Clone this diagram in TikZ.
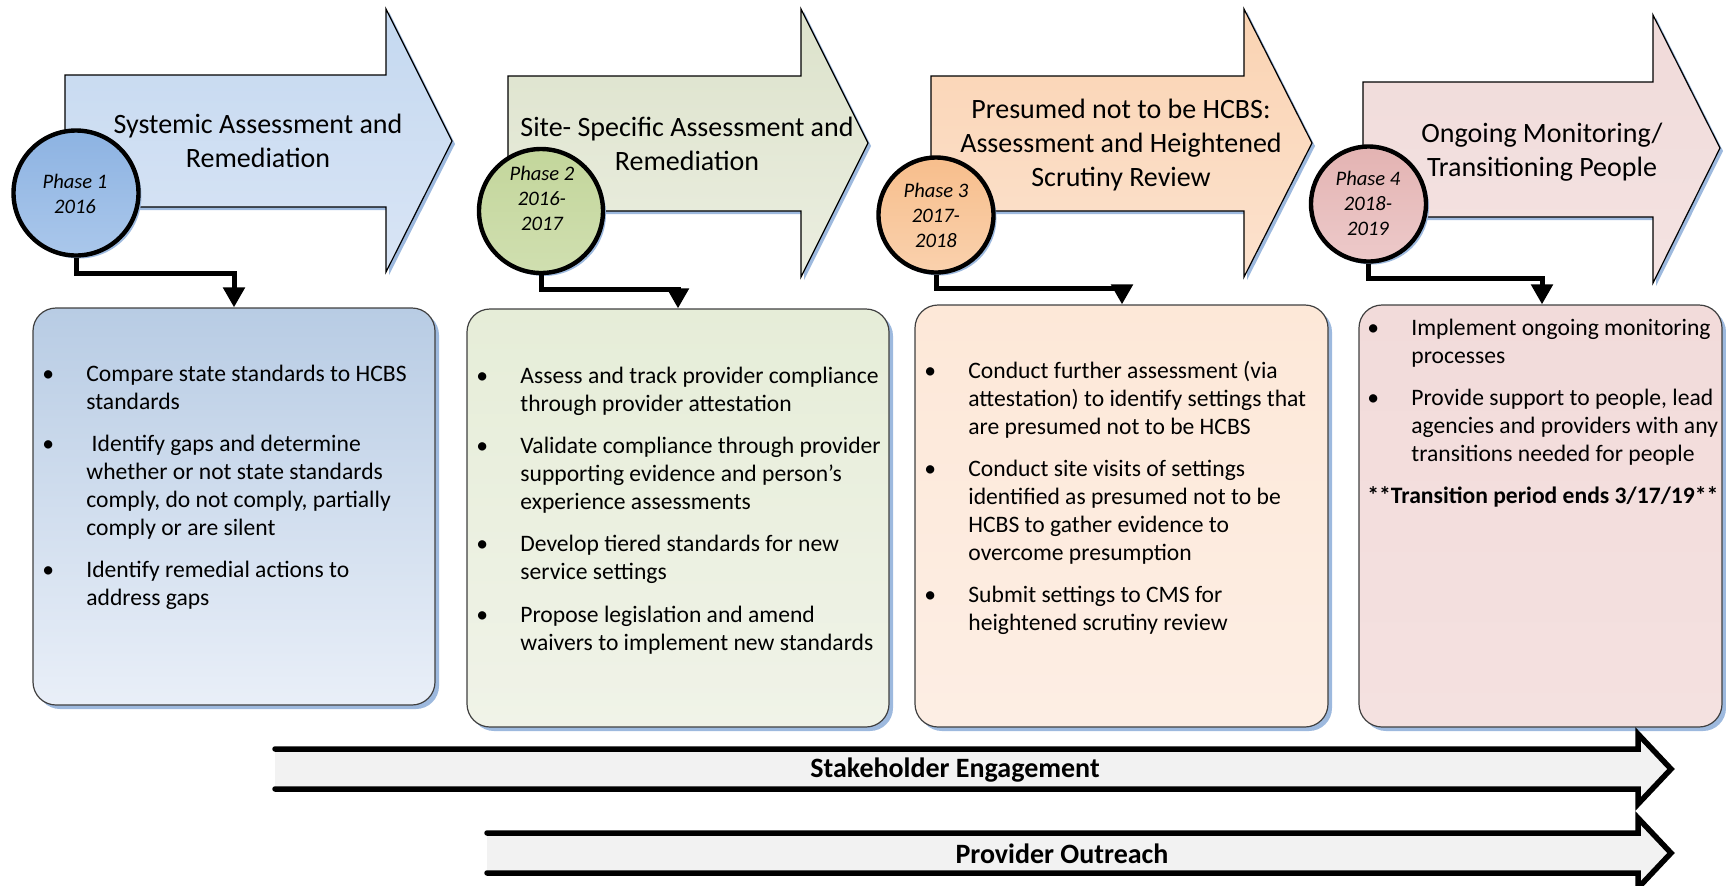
\documentclass[tikz,border=0pt]{standalone}
\usepackage{fontspec}
\setmainfont{Carlito}
\usetikzlibrary{arrows.meta,shadows}
\definecolor{shblue}{HTML}{9DB9DE}
\definecolor{boxline}{HTML}{404040}
\definecolor{aAtop}{HTML}{C4D8F0}
\definecolor{aAbot}{HTML}{D9E5F5}
\definecolor{cAtop}{HTML}{8DB3E2}
\definecolor{cAbot}{HTML}{AAC7EB}
\definecolor{bAtop}{HTML}{B8CCE4}
\definecolor{bAbot}{HTML}{E9EFF8}
\definecolor{aBtop}{HTML}{DCE2CB}
\definecolor{aBbot}{HTML}{EBEEE0}
\definecolor{cBtop}{HTML}{C3D69B}
\definecolor{cBbot}{HTML}{D0DFB0}
\definecolor{bBtop}{HTML}{E6EDD8}
\definecolor{bBbot}{HTML}{F0F3E8}
\definecolor{aCtop}{HTML}{FAD3B2}
\definecolor{aCbot}{HTML}{FCE2CE}
\definecolor{cCtop}{HTML}{F7BE8C}
\definecolor{cCbot}{HTML}{FAD1AD}
\definecolor{bCtop}{HTML}{FDE8D8}
\definecolor{bCbot}{HTML}{FDEEE4}
\definecolor{aDtop}{HTML}{F0DAD9}
\definecolor{aDbot}{HTML}{F4E3E2}
\definecolor{cDtop}{HTML}{E3B3B2}
\definecolor{cDbot}{HTML}{EDCACA}
\definecolor{bDtop}{HTML}{F2DBDA}
\definecolor{bDbot}{HTML}{F4E1E0}
\definecolor{bandfill}{HTML}{F2F2F2}
\newcommand\ctext[1]{\begin{tabular}[t]{@{}c@{}}#1\end{tabular}}
\newcommand\bitem[1]{\par\hangindent=22pt\hangafter=1\noindent\hbox to 22pt{\textbullet\hfil}\ignorespaces#1\par\vskip7.2pt}
\newcommand\blist[1]{\vtop{\hsize=240pt\parindent=0pt\parskip=0pt\raggedright\let\\\newline #1}}
\newcommand\pathA{(65,75) -- (386,75) -- (386,9) -- (452,141) -- (386,272) -- (386,207) -- (65,207) -- cycle}
\newcommand\pathB{(508,76) -- (801,76) -- (801,9) -- (868,143) -- (801,277) -- (801,211) -- (508,211) -- cycle}
\newcommand\pathC{(931,76) -- (1244,76) -- (1244,9) -- (1312,143) -- (1244,277) -- (1244,211) -- (931,211) -- cycle}
\newcommand\pathD{(1363,82) -- (1653,82) -- (1653,15) -- (1720,148) -- (1653,283) -- (1653,217) -- (1363,217) -- cycle}
\tikzset{
  phasearrow/.style={draw=black, line width=0.6pt, line join=miter},
  arrowshadow/.style={fill=shblue, draw=none, shift={(3,3)}},
  phasecircle/.style={circle, draw=black, line width=2.2pt, inner sep=0pt,
    drop shadow={shadow xshift=1.5pt, shadow yshift=-1.5pt, fill=shblue, opacity=1}},
  infobox/.style={rectangle, rounded corners=11.5pt, draw=boxline, line width=0.6pt, inner sep=0pt,
    drop shadow={shadow xshift=2pt, shadow yshift=-2pt, fill=shblue, opacity=1}},
  titletext/.style={anchor=base, inner sep=0pt, font=\fontsize{14}{17}\selectfont},
  phasetext/.style={anchor=base, inner sep=0pt, font=\fontsize{10.3}{12.5}\selectfont\itshape},
  bodytext/.style={anchor=base west, inner sep=0pt, font=\fontsize{11.8}{14}\selectfont},
  conn/.style={line width=2.5pt, -{Triangle[width=10.5pt,length=10pt]}, line join=miter},
  bandline/.style={line width=2.75pt, line cap=round, line join=miter},
  bandtext/.style={anchor=base, inner sep=0pt, font=\fontsize{14}{17}\selectfont\bfseries},
}
\begin{document}
\begin{tikzpicture}[x=0.5pt,y=-0.5pt]
\useasboundingbox (0,0) rectangle (1726,885);
% phase arrows
\fill[arrowshadow] \pathA;
\shade[phasearrow, top color=aAtop, bottom color=aAbot] \pathA;
\fill[arrowshadow] \pathB;
\shade[phasearrow, top color=aBtop, bottom color=aBbot] \pathB;
\fill[arrowshadow] \pathC;
\shade[phasearrow, top color=aCtop, bottom color=aCbot] \pathC;
\fill[arrowshadow] \pathD;
\shade[phasearrow, top color=aDtop, bottom color=aDbot] \pathD;
% boxes
\node[infobox, top color=bAtop, bottom color=bAbot, minimum width=201pt, minimum height=198.5pt] (b1) at (234,506.5) {};
\node[infobox, top color=bBtop, bottom color=bBbot, minimum width=211pt, minimum height=209pt] (b2) at (678,518) {};
\node[infobox, top color=bCtop, bottom color=bCbot, minimum width=206.5pt, minimum height=211pt] (b3) at (1121.5,516) {};
\node[infobox, top color=bDtop, bottom color=bDbot, minimum width=181.5pt, minimum height=211pt] (b4) at (1540.5,516) {};
% circles
\node[phasecircle, top color=cAtop, bottom color=cAbot, minimum size=62.5pt] (c1) at (76,193) {};
\node[phasecircle, top color=cBtop, bottom color=cBbot, minimum size=62pt] (c2) at (541,211) {};
\node[phasecircle, top color=cCtop, bottom color=cCbot, minimum size=57.5pt] (c3) at (936,215) {};
\node[phasecircle, top color=cDtop, bottom color=cDbot, minimum size=57.5pt] (c4) at (1368.5,204) {};
% phase texts
\node[phasetext] (p1) at (75,188) {\ctext{Phase 1\\2016}};
\node[phasetext] (p2) at (542,180) {\ctext{Phase 2\\2016-\\2017}};
\node[phasetext] (p3) at (936,197) {\ctext{Phase 3\\2017-\\2018}};
\node[phasetext] (p4) at (1368,185) {\ctext{Phase 4\\2018-\\2019}};
% titles
\node[titletext] (a1) at (258,133) {\ctext{Systemic Assessment and\\Remediation}};
\node[titletext] (a2) at (687,136) {\ctext{Site- Specific Assessment and\\Remediation}};
\node[titletext] (a3) at (1121,118) {\ctext{Presumed not to be HCBS:\\Assessment and Heightened\\Scrutiny Review}};
\node[titletext] (a4) at (1542,142) {\ctext{Ongoing Monitoring/\\Transitioning People}};
% connectors
\coordinate (k1) at (234,273);
\coordinate (k2) at (678,289);
\coordinate (k3) at (1122,288);
\coordinate (k4) at (1542,278);
\draw[conn] (c1.south) |- (k1) -- (k1 |- b1.north);
\draw[conn] (c2.south) |- (k2) -- (k2 |- b2.north);
\draw[conn] (c3.south) |- (k3) -- (k3 |- b3.north);
\draw[conn] (c4.south) |- (k4) -- (k4 |- b4.north);
% box texts
\node[bodytext] (t1) at (42,381) {\blist{%
\bitem{Compare state standards to HCBS\\standards}
\bitem{\ Identify gaps and determine\\whether or not state standards\\comply, do not comply, partially\\comply or are silent}
\bitem{Identify remedial actions to\\address gaps}}};
\node[bodytext] (t2) at (476,383) {\blist{%
\bitem{Assess and track provider compliance\\through provider attestation}
\bitem{Validate compliance through provider\\supporting evidence and person’s\\experience assessments}
\bitem{Develop tiered standards for new\\service settings}
\bitem{Propose legislation and amend\\waivers to implement new standards}}};
\node[bodytext] (t3) at (924,378) {\blist{%
\bitem{Conduct further assessment (via\\attestation) to identify settings that\\are presumed not to be HCBS}
\bitem{Conduct site visits of settings\\identified as presumed not to be\\HCBS to gather evidence to\\overcome presumption}
\bitem{Submit settings to CMS for\\heightened scrutiny review}}};
\node[bodytext] (t4) at (1367,335) {\blist{%
\bitem{Implement ongoing monitoring\\processes}
\bitem{Provide support to people, lead\\agencies and providers with any\\transitions needed for people}
\noindent\textbf{**Transition period ends 3/17/19**}}};
% bottom band arrows
\fill[bandfill] (275,749) -- (1638,749) -- (1638,734) -- (1671,769) -- (1638,804) -- (1638,789) -- (275,789) -- cycle;
\draw[bandline] (275,749) -- (1638,749) -- (1638,734) -- (1671,769) -- (1638,804) -- (1638,789) -- (275,789);
\fill[bandfill] (487,833) -- (1638,833) -- (1638,818) -- (1671,853) -- (1638,888) -- (1638,873) -- (487,873) -- cycle;
\draw[bandline] (487,833) -- (1638,833) -- (1638,818) -- (1671,853) -- (1638,888) -- (1638,873) -- (487,873);
\node[bandtext] (se) at (955,777) {Stakeholder Engagement};
\node[bandtext] (po) at (1062,863) {Provider Outreach};
\end{tikzpicture}
\end{document}
